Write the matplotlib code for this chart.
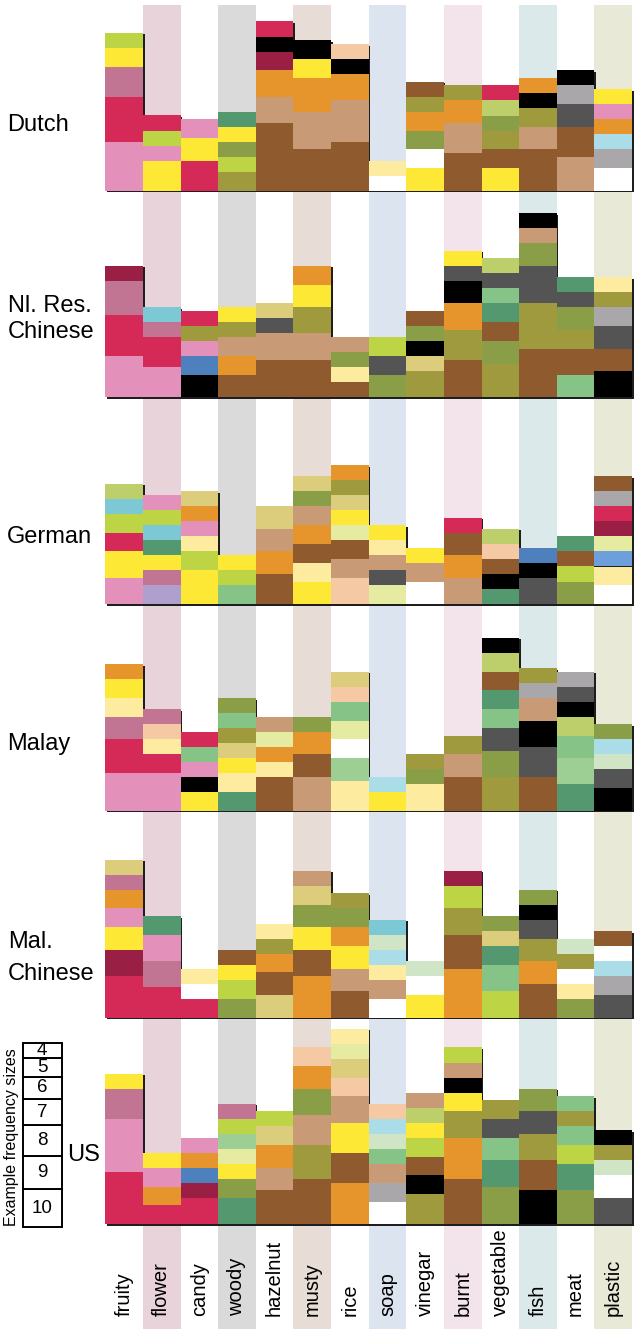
import re
import matplotlib
matplotlib.use('Agg')
import matplotlib.pyplot as plt
from matplotlib.transforms import ScaledTranslation

plt.rcParams['font.family'] = ['Liberation Sans', 'DejaVu Sans']

descriptors = ['fruity', 'flower', 'candy', 'woody', 'hazelnut', 'musty', 'rice',
               'soap', 'vinegar', 'burnt', 'vegetable', 'fish', 'meat', 'plastic']
groups = ['Dutch', 'Nl. Res.\nChinese', 'German', 'Malay', 'Mal.\nChinese', 'US']
legend_sizes = [10, 9, 8, 7, 6, 5, 4]   # bottom to top

# background band for every second descriptor
band_colors = {1: '#e8d3db', 3: '#dadada', 5: '#e8ddd6', 7: '#dce4ef',
               9: '#f2e4ea', 11: '#dce9eb', 13: '#e9e9d8'}

palette = {
    'P': '#e391bb', 'R': '#d52a57', 'M': '#c27593', 'LG': '#bdd544',
    'Y': '#fde935', 'O': '#e6952d', 'T': '#c99a76', 'B': '#8f5a2d',
    'K': '#000000', 'DR': '#9a1f45', 'PE': '#f4c9a4', 'LY': '#fdeba0',
    'W': '#ffffff', 'OL': '#a09a3e', 'G': '#8a9e48', 'SG': '#53986f',
    'LGR': '#86c386', 'MG': '#9dce94', 'DG': '#545454', 'GR': '#aaa7aa',
    'LB': '#abdde8', 'CY': '#7cc8d4', 'BL': '#4e80bd', 'LBL': '#6d9fdd',
    'LAV': '#ae9fcc', 'KH': '#dccd7d', 'LL': '#e5eba0', 'PGR': '#cfe5c6',
    'YG': '#bccf6a',
}

# frequencies per descriptor, colour code + count, bottom to top
dutch = [
    'P13 R12 M8 Y5 LG4',
    'Y8 P4 LG4 R4',
    'R8 Y6 P5',
    'OL5 LG4 G4 Y4 SG4',
    'B18 T7 O7 DR5 K4 R4',
    'B11 T10 O9 Y5 K5',
    'B13 T11 O7 K4 PE4',
    'W4 LY4',
    'Y6 W5 G5 O5 OL4 B4',
    'B10 T8 O6 OL4',
    'Y6 B5 OL5 G4 YG4 R4',
    'B11 T6 OL5 K4 O4',
    'T9 B8 DG6 GR5 K4',
    'W6 GR5 LB4 O4 P4 Y4',
]
nl_chinese = [
    'P11 R11 M9 DR4',
    'P8 R8 M4 CY4',
    'K6 BL5 P4 OL4 R4',
    'B6 O5 T5 OL4 Y4',
    'B10 T7 DG4 KH4',
    'B10 T7 OL7 Y6 O5',
    'B4 LY4 G4 T4',
    'G6 DG5 LG5',
    'OL7 KH4 K4 G4 B4',
    'B10 OL8 O7 K6 DG4 Y4',
    'OL9 G6 B5 SG5 LGR4 DG4 YG4',
    'B13 OL12 DG10 G6 T4 K4',
    'LGR6 B7 OL5 G6 DG4 SG4',
    'K7 B6 DG6 GR5 OL4 LY4',
]
german = [
    'P7 Y7 R5 LG5 CY4 YG4',
    'LAV5 M4 Y4 SG4 CY4 LG4 P4',
    'Y9 LG5 LY4 P4 O4 KH4',
    'LGR5 LG4 Y4',
    'B8 O6 T6 KH6',
    'Y6 LY5 B5 O5 T5 G4 KH4',
    'PE7 T5 B5 LL4 Y4 KH4 OL4 O4',
    'LL5 DG4 T4 LY4 Y4',
    'W6 T5 Y4',
    'T7 O6 B6 R4',
    'SG4 K4 B4 PE4 YG4',
    'DG7 K4 BL4',
    'G6 LG4 B4 SG4',
    'W5 LY5 LBL4 LL4 DR4 R4 GR4 B4',
]
malay = [
    'P10 R9 M6 LY5 Y5 O4',
    'P10 R5 LY4 PE4 M4',
    'Y5 K4 P4 LGR4 R4',
    'SG5 LY5 Y4 KH4 OL4 LGR4 G4',
    'B9 LY4 O4 LL4 T4',
    'T9 B6 O6 G4',
    'LY8 MG6 W5 LL5 LGR5 PE4 KH4',
    'Y5 LB4',
    'LY7 G4 OL4',
    'B9 T6 OL5',
    'OL9 G7 DG6 LGR5 SG5 B5 YG5 K4',
    'B9 DG8 K7 T6 GR4 OL4',
    'SG7 MG7 LGR6 YG5 K4 DG4 GR4',
    'K6 DG5 PGR4 LB4 G4',
]
mal_chinese = [
    'R11 DR7 Y6 P5 O5 M4 KH4',
    'R8 M7 P7 SG5',
    'R5 W4 LY4',
    'G5 LG5 Y4 B4',
    'KH6 B6 O5 OL4 LY4',
    'O11 B7 Y6 G6 KH5 T4',
    'B7 T6 Y6 O5 G5 OL4',
    'W5 T5 LY4 LB4 PGR4 CY4',
    'Y6 W5 PGR4',
    'O13 B9 OL7 LG6 DR4',
    'LG7 LGR7 SG5 KH4 G4',
    'B9 O6 OL6 DG5 K4 G4',
    'G5 LY4 W4 OL4 PGR4',
    'DG6 GR5 LB4 W4 B4',
]
us = [
    'R14 P14 M8 Y4',
    'R5 O5 P5 Y4',
    'R7 DR4 BL4 O4 P4',
    'SG7 G5 Y4 LL4 MG4 LG4 M4',
    'B9 T6 O6 KH5 LG4',
    'B12 OL9 T8 G7 O6 PE5',
    'O11 B8 Y8 T7 PE5 KH5 LL4 LY4',
    'W6 GR5 T5 LGR4 PGR4 LB4 PE4',
    'OL8 K5 B5 LG5 Y4 YG4 T4',
    'B12 O11 OL7 Y5 K4 T4 LG4',
    'G10 SG7 LGR6 DG5 OL5',
    'K9 B8 OL7 DG6 G6',
    'G9 SG7 LG5 LGR5 OL4 LGR4',
    'DG7 W6 PGR4 OL4 K4',
]
data = [dutch, nl_chinese, german, malay, mal_chinese, us]

W, H = 640, 1335
fig = plt.figure(figsize=(W / 100, H / 100), dpi=100)


def px_box(x0, y0, x1, y1):
    # pixel box (from top left) -> figure fraction rect
    return [x0 / W, 1 - y1 / H, (x1 - x0) / W, (y1 - y0) / H]


X0, X1 = 105.3, 632.0
colw = (X1 - X0) / len(descriptors)
UNIT = 3.76          # px per frequency count
YMAX = 55
baselines = [190.7 + 206.7 * k for k in range(len(groups))]

# vertical colour bands behind everything
bg = fig.add_axes(px_box(X0, 5, X1, 1329))
bg.set_xlim(0, len(descriptors))
bg.set_ylim(0, 1)
bg.axis('off')
for i, c in band_colors.items():
    bg.axvspan(i, i + 1, color=c, lw=0)

shadow = ScaledTranslation(1.6 / 100, -1.6 / 100, fig.dpi_scale_trans)
for k, cols in enumerate(data):
    base = baselines[k]
    ax = fig.add_axes(px_box(X0, base - YMAX * UNIT, X1, base))
    ax.set_xlim(0, len(descriptors))
    ax.set_ylim(0, YMAX)
    ax.axis('off')
    for i, col in enumerate(cols):
        segs = [(m.group(1), int(m.group(2))) for m in re.finditer(r'([A-Z]+)(\d+)', col)]
        total = sum(v for _, v in segs)
        sh = ax.bar(i, total, width=1, align='edge', color='#1e1e1e', lw=0,
                    zorder=1, clip_on=False)
        sh[0].set_transform(ax.transData + shadow)
        bottom = 0
        for code, v in segs:
            ax.bar(i, v, width=1, bottom=bottom, align='edge', color=palette[code],
                   lw=0, zorder=2)
            bottom += v

# group labels
label_pos = [(7, 125), (8, 319), (7, 537), (7, 744), (8, 958), (67, 1155)]
spacing = [1.2, 1.2, 1.2, 1.2, 1.55, 1.2]
for (x, y), txt, ls in zip(label_pos, groups, spacing):
    fig.text(x / W, 1 - y / H, txt, fontsize=17, ha='left', va='center', linespacing=ls)

# descriptor labels
for i, d in enumerate(descriptors):
    fig.text((X0 + (i + 0.5) * colw) / W, 1 - 1316 / H, d, rotation=90,
             ha='center', va='bottom', fontsize=14.5)

# example frequency size key
leg = fig.add_axes(px_box(22.7, 1227 - sum(legend_sizes) * UNIT, 61.7, 1227))
leg.set_xlim(0, 1)
leg.set_ylim(0, sum(legend_sizes))
leg.axis('off')
bottom = 0
for s in legend_sizes:
    leg.bar(0, s, width=1, bottom=bottom, align='edge', facecolor='white',
            edgecolor='black', lw=1.4, clip_on=False)
    leg.text(0.5, bottom + s / 2, str(s), ha='center', va='center', fontsize=13.5)
    bottom += s
fig.text(12 / W, 1 - 1137 / H, 'Example frequency sizes', rotation=90,
         ha='center', va='center', fontsize=11.5)

fig.savefig('out.png', dpi=100)
